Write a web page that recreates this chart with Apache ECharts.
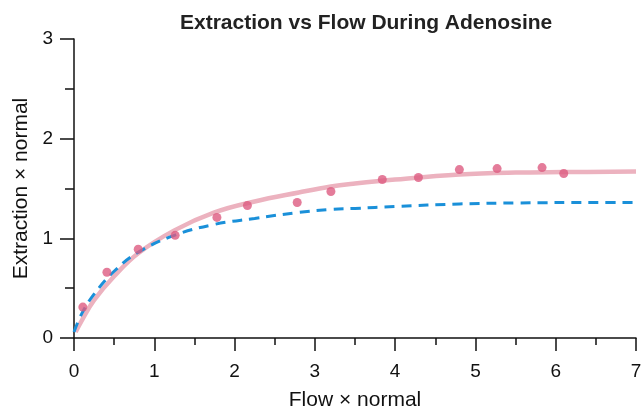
<!DOCTYPE html>
<html>
<head>
<meta charset="utf-8">
<script src="https://cdn.jsdelivr.net/npm/echarts@6/dist/echarts.min.js"></script>
<style>
  html, body { margin: 0; padding: 0; background: #fff; }
  #chart { width: 641px; height: 412px; }
</style>
</head>
<body>
<div id="chart"></div>
<script>
// measured points (flow, extraction)
const flowPts = [0.11, 0.41, 0.80, 1.26, 1.78, 2.16, 2.78, 3.20, 3.84, 4.29, 4.80, 5.27, 5.83, 6.10];
const extrPts = [0.31, 0.66, 0.89, 1.03, 1.21, 1.33, 1.36, 1.47, 1.59, 1.61, 1.69, 1.70, 1.71, 1.65];

// fitted curve (solid pink)
const fitX = [0.02, 0.1, 0.25, 0.5, 0.8, 1.25, 1.75, 2.25, 2.8, 3.2, 3.5, 4.0, 4.8, 5.5, 6.1, 7.0];
const fitY = [0.06, 0.18, 0.38, 0.62, 0.85, 1.08, 1.26, 1.37, 1.46, 1.52, 1.55, 1.59, 1.64, 1.66, 1.665, 1.67];

// model curve (dashed blue)
const modelX = [0.0, 0.1, 0.25, 0.5, 0.8, 1.25, 1.75, 2.25, 2.8, 3.2, 3.5, 4.0, 4.8, 5.5, 6.5, 7.0];
const modelY = [0.06, 0.25, 0.44, 0.67, 0.86, 1.03, 1.14, 1.20, 1.26, 1.29, 1.30, 1.32, 1.345, 1.355, 1.36, 1.36];

const zip = (xs, ys) => xs.map((x, i) => [x, ys[i]]);

const chart = echarts.init(document.getElementById("chart"));
const font = "Liberation Sans, Arial, Helvetica, sans-serif";

const axisCommon = {
  type: "value",
  axisLine: { show: true, onZero: false, lineStyle: { color: "#111", width: 1.5 } },
  splitLine: { show: false },
  axisLabel: { color: "#111", fontSize: 19, fontFamily: font },
  nameTextStyle: { color: "#111", fontSize: 21, fontFamily: font }
};

chart.setOption({
  animation: false,
  title: {
    text: "Extraction vs Flow During Adenosine",
    left: 175,
    top: 8,
    textStyle: { fontSize: 21, fontWeight: "bold", color: "#222", fontFamily: font }
  },
  grid: { left: 74, right: 5, top: 39, bottom: 74, containLabel: false, outerBoundsMode: "none" },
  xAxis: Object.assign({}, axisCommon, {
    min: 0, max: 7, interval: 1,
    name: "Flow \u00d7 normal",
    nameLocation: "middle",
    nameGap: 52,
    axisTick: { show: true, length: 13, lineStyle: { color: "#111", width: 1.5 } },
    minorTick: { show: true, splitNumber: 2, length: 7, lineStyle: { color: "#111", width: 1.5 } },
    axisLabel: Object.assign({}, axisCommon.axisLabel, { margin: 24 })
  }),
  yAxis: Object.assign({}, axisCommon, {
    min: 0, max: 3, interval: 1,
    name: "Extraction \u00d7 normal",
    nameLocation: "middle",
    nameGap: 40,
    axisTick: { show: true, length: 14, lineStyle: { color: "#111", width: 1.5 } },
    minorTick: { show: true, splitNumber: 2, length: 9, lineStyle: { color: "#111", width: 1.5 } },
    axisLabel: Object.assign({}, axisCommon.axisLabel, { margin: 21 })
  }),
  series: [
    {
      type: "line",
      data: zip(fitX, fitY),
      smooth: 0.4,
      showSymbol: false,
      lineStyle: { color: "#ecb2bf", width: 4.5 },
      z: 2
    },
    {
      type: "line",
      data: zip(modelX, modelY),
      smooth: 0.4,
      showSymbol: false,
      lineStyle: { color: "#1a90d9", width: 3, type: [10, 7] },
      z: 3
    },
    {
      type: "scatter",
      data: zip(flowPts, extrPts),
      symbolSize: 9,
      itemStyle: { color: "#dd5b81" },
      z: 4
    }
  ]
});
</script>
</body>
</html>
